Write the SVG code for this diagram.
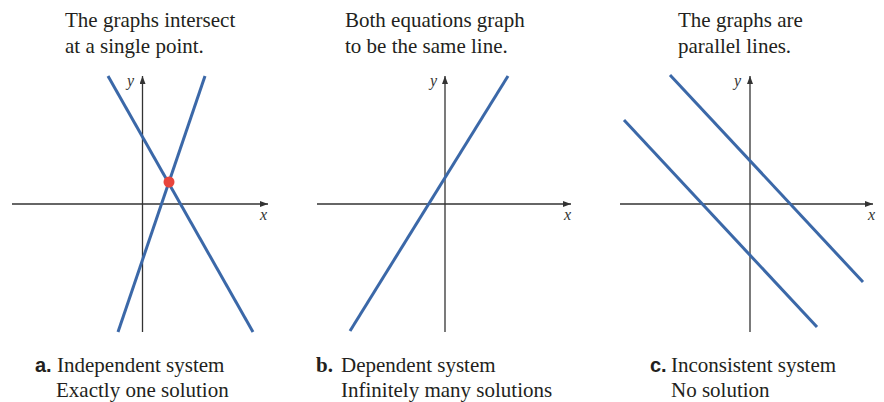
<svg xmlns="http://www.w3.org/2000/svg" width="884" height="402" viewBox="0 0 884 402">
<defs>
<marker id="arr" viewBox="0 0 8 6" refX="8" refY="3" markerWidth="8" markerHeight="6" markerUnits="userSpaceOnUse" orient="auto">
<path d="M0,0 L8,3 L0,6 Z" fill="#333"/>
</marker>
<style>
.t{font-family:"Liberation Serif","Times New Roman",serif;font-size:21px;fill:#231f20}
.lb{font-family:"Liberation Sans",Arial,sans-serif;font-weight:bold;font-size:20px;fill:#231f20}
.lbs{font-family:"Liberation Serif","Times New Roman",serif;font-weight:bold;font-size:21px;fill:#231f20}
.var{font-family:"Liberation Serif","Times New Roman",serif;font-style:italic;font-size:16px;fill:#333}
.ax{stroke:#333;stroke-width:1.3;fill:none}
.ln{stroke:#3b68a8;stroke-width:3;fill:none;stroke-linecap:butt}
</style>
</defs>
<rect width="884" height="402" fill="#fff"/>

<g id="panel-a">
<text class="t" x="65" y="27">The graphs intersect</text>
<text class="t" x="65" y="53">at a single point.</text>
<line class="ax" x1="12" y1="204" x2="268" y2="204" marker-end="url(#arr)"/>
<line class="ax" x1="142.5" y1="332" x2="142.5" y2="76" marker-end="url(#arr)"/>
<text class="var" x="127" y="86">y</text>
<text class="var" x="260" y="220">x</text>
<line class="ln" x1="108" y1="76" x2="253" y2="332"/>
<line class="ln" x1="205" y1="76" x2="118" y2="332"/>
<circle cx="169" cy="182" r="5.5" fill="#e8453c"/>
<text class="lb" x="35" y="372">a.</text>
<text class="t" x="57" y="372">Independent system</text>
<text class="t" x="56" y="397">Exactly one solution</text>
</g>

<g id="panel-b">
<text class="t" x="345" y="27">Both equations graph</text>
<text class="t" x="345" y="53">to be the same line.</text>
<line class="ax" x1="317" y1="204" x2="571" y2="204" marker-end="url(#arr)"/>
<line class="ax" x1="445" y1="332" x2="445" y2="76" marker-end="url(#arr)"/>
<text class="var" x="430" y="86">y</text>
<text class="var" x="564" y="220">x</text>
<line class="ln" x1="508" y1="76" x2="350" y2="331"/>
<text class="lbs" x="316" y="372">b.</text>
<text class="t" x="341" y="372">Dependent system</text>
<text class="t" x="341" y="397">Infinitely many solutions</text>
</g>

<g id="panel-c">
<text class="t" x="678" y="27">The graphs are</text>
<text class="t" x="678" y="53">parallel lines.</text>
<line class="ax" x1="620" y1="204" x2="873" y2="204" marker-end="url(#arr)"/>
<line class="ax" x1="750" y1="332" x2="750" y2="76" marker-end="url(#arr)"/>
<text class="var" x="734" y="86">y</text>
<text class="var" x="868" y="220">x</text>
<line class="ln" x1="670" y1="75" x2="863" y2="282"/>
<line class="ln" x1="624" y1="120" x2="817" y2="327"/>
<text class="lb" x="650" y="372">c.</text>
<text class="t" x="671" y="372">Inconsistent system</text>
<text class="t" x="671" y="397">No solution</text>
</g>
</svg>
